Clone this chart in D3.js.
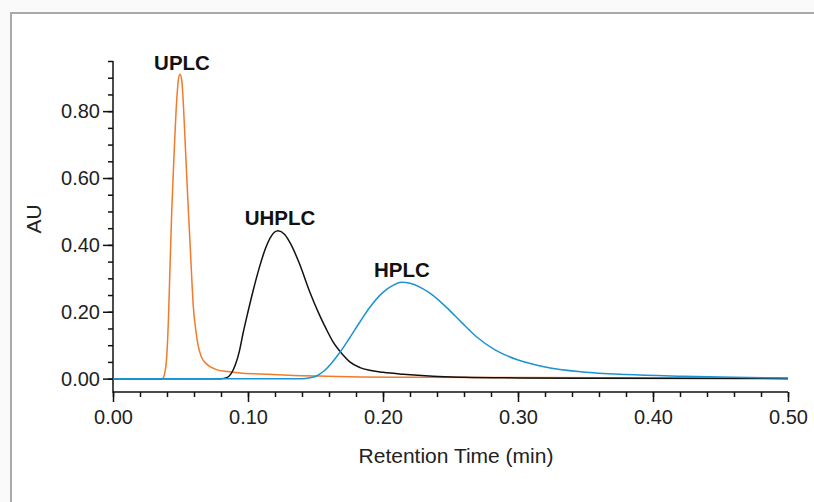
<!DOCTYPE html>
<html>
<head>
<meta charset="utf-8">
<script src="https://cdn.jsdelivr.net/npm/d3@7"></script>
<style>
  html, body { margin: 0; padding: 0; background: #fafafa; }
  svg { display: block; font-family: "Liberation Sans", Arial, sans-serif; }
</style>
</head>
<body>
<div id="chart"></div>
<script>
// retention time (min) / absorbance (AU)
var uplcTime = [0, 0.036, 0.0373, 0.0385, 0.0395, 0.041, 0.0422, 0.0435, 0.0454, 0.047, 0.0485, 0.0496,
    0.051, 0.0525, 0.0537, 0.0555, 0.0575, 0.0595, 0.0615, 0.063, 0.0655, 0.069, 0.0767, 0.085, 0.094,
    0.109, 0.13, 0.158, 0.183, 0.22, 0.3, 0.4, 0.5];
var uplcAU = [0, 0, 0.003, 0.02, 0.05, 0.17, 0.33, 0.5, 0.685, 0.82, 0.895, 0.91,
    0.89, 0.79, 0.685, 0.53, 0.37, 0.215, 0.14, 0.1, 0.065, 0.045, 0.027, 0.021, 0.017,
    0.014, 0.01, 0.007, 0.005, 0.004, 0.003, 0.002, 0.001];

var uhplcTime = [0, 0.08, 0.0842, 0.0875, 0.0905, 0.0935, 0.0963, 0.1, 0.1036, 0.1086, 0.113, 0.117,
    0.1222, 0.127, 0.132, 0.138, 0.1457, 0.153, 0.158, 0.163, 0.1706, 0.1754, 0.183, 0.19, 0.2,
    0.215, 0.237, 0.26, 0.3, 0.35, 0.5];
var uhplcAU = [0, 0, 0.003, 0.015, 0.04, 0.08, 0.135, 0.2, 0.26, 0.335, 0.39, 0.425,
    0.442, 0.432, 0.4, 0.345, 0.26, 0.19, 0.148, 0.11, 0.07, 0.05, 0.033, 0.025, 0.019,
    0.013, 0.007, 0.004, 0.002, 0.001, 0];

var hplcTime = [0, 0.14, 0.145, 0.1508, 0.156, 0.162, 0.168, 0.175, 0.183, 0.19, 0.2, 0.207, 0.2137,
    0.22, 0.228, 0.237, 0.247, 0.258, 0.269, 0.283, 0.299, 0.32, 0.348, 0.38, 0.422, 0.46, 0.5];
var hplcAU = [0, 0, 0.002, 0.008, 0.022, 0.047, 0.078, 0.12, 0.17, 0.212, 0.258, 0.278, 0.288,
    0.285, 0.272, 0.249, 0.213, 0.169, 0.126, 0.086, 0.057, 0.035, 0.02, 0.012, 0.007, 0.004, 0.002];

var xTicks = [0, 0.1, 0.2, 0.3, 0.4, 0.5];
var yTicks = [0, 0.2, 0.4, 0.6, 0.8];

var series = [
    {name: "UPLC", t: uplcTime, v: uplcAU, color: "#f27a2b", lx: 0.0511, ly: 0.923},
    {name: "UHPLC", t: uhplcTime, v: uhplcAU, color: "#111111", lx: 0.1237, ly: 0.46},
    {name: "HPLC", t: hplcTime, v: hplcAU, color: "#1b93d3", lx: 0.214, ly: 0.304}
];

var width = 814, height = 502;
var x0 = 113, x1 = 788, yTop = 61, yBase = 392;

var x = d3.scaleLinear().domain([0, 0.5]).range([x0, x1]);
var y = d3.scaleLinear().domain([-0.04, 0.95]).range([yBase, yTop]);

var svg = d3.select("#chart").append("svg")
    .attr("width", width)
    .attr("height", height);

// panel frame
svg.append("rect")
    .attr("x", 11).attr("y", 13)
    .attr("width", width + 20).attr("height", height + 20)
    .attr("fill", "#fff")
    .attr("stroke", "#aaa")
    .attr("stroke-width", 2);

// axes
var xAxis = d3.axisBottom(x).tickValues(xTicks).tickSize(10).tickPadding(8)
    .tickFormat(d3.format(".2f"));
var xMinor = d3.axisBottom(x).tickValues(d3.range(0, 0.501, 0.02)).tickSize(5).tickFormat("");
var yAxis = d3.axisLeft(y).tickValues(yTicks).tickSize(10).tickPadding(3)
    .tickFormat(d3.format(".2f"));
var yMinor = d3.axisLeft(y).tickValues(d3.range(0, 0.951, 0.05)).tickSize(5).tickFormat("");

function styleAxis(g) {
    g.select(".domain").remove();
    g.selectAll("line").attr("stroke", "#111").attr("stroke-width", 1.5);
    g.selectAll("text").attr("fill", "#222").style("font-size", "20px");
}

svg.append("g").attr("transform", "translate(0," + yBase + ")").call(xMinor).call(styleAxis);
svg.append("g").attr("transform", "translate(0," + yBase + ")").call(xAxis).call(styleAxis);
svg.append("g").attr("transform", "translate(" + x0 + ",0)").call(yMinor).call(styleAxis);
svg.append("g").attr("transform", "translate(" + x0 + ",0)").call(yAxis).call(styleAxis);

svg.append("path")
    .attr("d", "M" + x0 + "," + yTop + "V" + yBase + "H" + x1)
    .attr("fill", "none")
    .attr("stroke", "#111")
    .attr("stroke-width", 1.5);

// curves
var line = d3.line()
    .x(function (d) { return x(d[0]); })
    .y(function (d) { return y(d[1]); })
    .curve(d3.curveMonotoneX);

series.forEach(function (s) {
    var pts = s.t.map(function (t, i) { return [t, s.v[i]]; });
    svg.append("path")
        .datum(pts)
        .attr("d", line)
        .attr("fill", "none")
        .attr("stroke", s.color)
        .attr("stroke-width", 1.5);
});

series.forEach(function (s) {
    svg.append("text")
        .attr("x", x(s.lx))
        .attr("y", y(s.ly))
        .attr("text-anchor", "middle")
        .attr("font-weight", "bold")
        .style("font-size", "20.5px")
        .attr("fill", "#111")
        .text(s.name);
});

// axis titles
svg.append("text")
    .attr("x", 456)
    .attr("y", 463)
    .attr("text-anchor", "middle")
    .style("font-size", "21px")
    .attr("fill", "#222")
    .text("Retention Time (min)");

svg.append("text")
    .attr("transform", "translate(41,219) rotate(-90)")
    .attr("text-anchor", "middle")
    .style("font-size", "21px")
    .attr("fill", "#222")
    .text("AU");
</script>
</body>
</html>
